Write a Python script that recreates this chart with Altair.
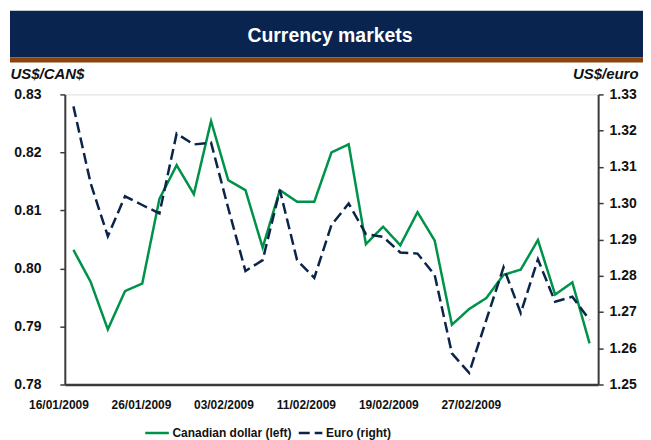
import altair as alt
import pandas as pd

# ---- data ----
dates = ["16/01/2009", "19/01/2009", "20/01/2009", "21/01/2009", "22/01/2009", "23/01/2009",
         "26/01/2009", "27/01/2009", "28/01/2009", "29/01/2009", "30/01/2009",
         "02/02/2009", "03/02/2009", "04/02/2009", "05/02/2009", "06/02/2009",
         "09/02/2009", "10/02/2009", "11/02/2009", "12/02/2009", "13/02/2009",
         "16/02/2009", "17/02/2009", "18/02/2009", "19/02/2009", "20/02/2009",
         "23/02/2009", "24/02/2009", "25/02/2009", "26/02/2009", "27/02/2009"]
cad = [0.8032, 0.7977, 0.7895, 0.7961, 0.7974, 0.8120, 0.8178, 0.8128, 0.8254, 0.8152, 0.8135,
       0.8036, 0.8135, 0.8115, 0.8115, 0.8200, 0.8214, 0.8042, 0.8072, 0.8040, 0.8097,
       0.8048, 0.7903, 0.7930, 0.7949, 0.7989, 0.7998, 0.8049, 0.7955, 0.7976, 0.7871]
eur = [1.3267, 1.3055, 1.2909, 1.3019, 1.2995, 1.2972, 1.3192, 1.3162, 1.3167, 1.2986, 1.2813,
       1.2843, 1.3036, 1.2843, 1.2794, 1.2940, 1.2999, 1.2915, 1.2907, 1.2864, 1.2861,
       1.2802, 1.2586, 1.2532, 1.2678, 1.2823, 1.2697, 1.2845, 1.2728, 1.2742, 1.2678]
series_names = ["Canadian dollar (left)", "Euro (right)"]
tick_dates = ["16/01/2009", "26/01/2009", "03/02/2009", "11/02/2009", "19/02/2009", "27/02/2009"]
left_ticks = [0.78, 0.79, 0.80, 0.81, 0.82, 0.83]
right_ticks = [1.25, 1.26, 1.27, 1.28, 1.29, 1.30, 1.31, 1.32, 1.33]
chart_title = "Currency markets"
left_title = "US$/CAN$"
right_title = "US$/euro"

GREEN = "#00924A"
NAVY = "#0B2449"
BANNER = "#0A2450"
BROWN = "#8A420E"
AXIS = "#3a3a3a"
FONT = "Liberation Sans"

rows = []
for i, d in enumerate(dates):
    rows.append({"i": i, "date": d, "series": series_names[0], "value": cad[i]})
    rows.append({"i": i, "date": d, "series": series_names[1], "value": eur[i]})
df = pd.DataFrame(rows)

W, H = 535, 291

tick_idx = [dates.index(t) for t in tick_dates]
label_arr = "[" + ",".join("'%s'" % t for t in tick_dates) + "]"

x_enc = alt.X(
    "i:Q",
    scale=alt.Scale(domain=[-0.5, len(dates) - 0.5], nice=False, zero=False),
    axis=alt.Axis(
        values=tick_idx, title=None, grid=False, ticks=False,
        labelExpr=label_arr + "[round(datum.value/6)]",
        labelOffset={"expr": "-15 - datum.value*3.47"},
        labelFont=FONT, labelFontWeight="bold", labelFontSize=12, labelColor="#111",
        labelPadding=15, domainColor=AXIS, domainWidth=2.5,
    ),
)

legend_cfg = dict(
    title=None, orient="none", legendX=79, legendY=326, direction="horizontal",
    symbolType="stroke", symbolSize=560, symbolStrokeWidth=2.5,
    labelFont=FONT, labelFontWeight="bold", labelFontSize=12, labelColor="#111",
    labelOffset=2, columnPadding=1,
)
color_enc = alt.Color(
    "series:N",
    scale=alt.Scale(domain=series_names, range=[GREEN, NAVY]),
    legend=alt.Legend(**legend_cfg),
)
dash_enc = alt.StrokeDash(
    "series:N",
    scale=alt.Scale(domain=series_names, range=[[1, 0], [11, 5]]),
    legend=alt.Legend(**legend_cfg),
)

cad_line = alt.Chart(df).transform_filter(
    alt.datum.series == series_names[0]
).mark_line(strokeWidth=2.5, strokeJoin="miter").encode(
    x=x_enc,
    y=alt.Y(
        "value:Q",
        scale=alt.Scale(domain=[0.78, 0.83], nice=False, zero=False),
        axis=alt.Axis(
            orient="left", values=left_ticks, format=".2f", grid=False,
            title=left_title, titleAngle=0, titleAlign="left", titleBaseline="middle",
            titleX=-55, titleY=-21, titleFont=FONT, titleFontWeight="bold",
            titleFontStyle="italic", titleFontSize=15, titleColor="#111",
            labelFont=FONT, labelFontWeight="bold", labelFontSize=14, labelColor="#111",
            labelPadding=19, tickSize=5, tickColor=AXIS, tickWidth=1.5,
            domainColor=AXIS, domainWidth=2,
        ),
    ),
    color=color_enc,
    strokeDash=dash_enc,
)

eur_line = alt.Chart(df).transform_filter(
    alt.datum.series == series_names[1]
).mark_line(strokeWidth=2.5, strokeJoin="miter").encode(
    x=x_enc,
    y=alt.Y(
        "value:Q",
        scale=alt.Scale(domain=[1.25, 1.33], nice=False, zero=False),
        axis=alt.Axis(
            orient="right", values=right_ticks, format=".2f", grid=False,
            title=right_title, titleAngle=0, titleAlign="right", titleBaseline="middle",
            titleX=40, titleY=-21, titleFont=FONT, titleFontWeight="bold",
            titleFontStyle="italic", titleFontSize=15, titleColor="#111",
            labelFont=FONT, labelFontWeight="bold", labelFontSize=14, labelColor="#111",
            labelPadding=6, tickSize=5, tickColor=AXIS, tickWidth=1.5,
            domainColor=AXIS, domainWidth=2,
        ),
    ),
    color=color_enc,
    strokeDash=dash_enc,
)

one = alt.Data(values=[{"t": chart_title}])
banner = alt.Chart(one).mark_rect(color=BANNER).encode(
    x=alt.value(-55), x2=alt.value(W + 60), y=alt.value(-84), y2=alt.value(-37)
)
stripe = alt.Chart(one).mark_rect(color=BROWN).encode(
    x=alt.value(-55), x2=alt.value(W + 60), y=alt.value(-37), y2=alt.value(-32)
)
title_txt = alt.Chart(one).mark_text(
    font=FONT, fontWeight="bold", fontSize=19.5, color="white", align="center",
    baseline="middle"
).encode(
    x=alt.value(266), y=alt.value(-59), text="t:N"
)

chart = alt.layer(banner, stripe, title_txt, cad_line, eur_line).resolve_scale(
    y="independent"
).properties(
    width=W, height=H,
    padding={"left": 57, "top": 86, "right": 45, "bottom": 55},
    autosize=alt.AutoSizeParams(type="none"),
).configure_view(
    stroke="#8a8a8a", strokeWidth=1.5
).configure(font=FONT, background="white")

chart.save("out.html", embed_options={"renderer": "svg", "actions": False})
